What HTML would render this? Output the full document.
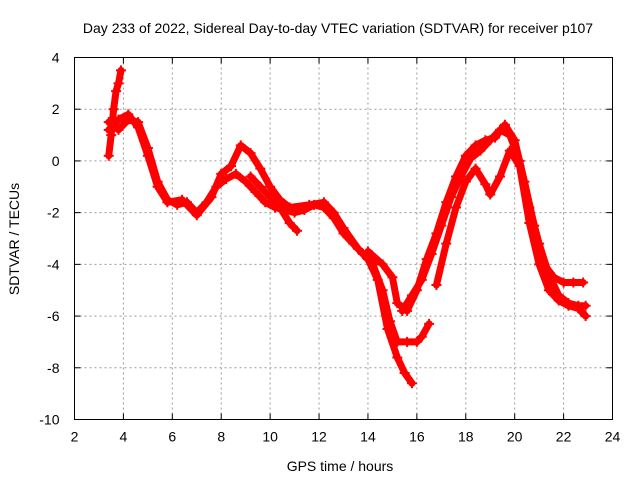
<!DOCTYPE html>
<html><head><meta charset="utf-8"><style>
body{margin:0;background:#fff}
svg text{font-family:"Liberation Sans",sans-serif;font-size:14px;fill:#000}
</style></head><body>
<svg width="640" height="480" xmlns="http://www.w3.org/2000/svg" id="c">
<text x="338" y="33" text-anchor="middle">Day 233 of 2022, Sidereal Day-to-day VTEC variation (SDTVAR) for receiver p107</text>
<text x="340" y="471" text-anchor="middle">GPS time / hours</text>
<text transform="translate(19,239) rotate(-90)" text-anchor="middle">SDTVAR / TECUs</text>
<g id="grid"></g>
<g id="series"></g>
<rect x="74.5" y="57.5" width="538" height="362" fill="none" stroke="#000" stroke-width="1"/>
<g id="ticks"></g>
</svg>
<script>
const xTicks=[2,4,6,8,10,12,14,16,18,20,22,24];
const yTicks=[4,2,0,-2,-4,-6,-8,-10];
const trackA=[[3.4,0.2],[3.5,1.0],[3.6,2.0],[3.7,2.7],[3.8,3.0],[3.9,3.5]];
const trackB=[[3.4,1.5],[3.8,1.2],[4.2,1.6],[4.6,1.5],[5.0,0.5],[5.4,-0.8],[5.8,-1.5],[6.2,-1.7],[6.6,-1.6],[7.0,-2.0],[7.4,-1.6],[7.8,-1.0],[8.2,-0.7],[8.6,-0.5],[9.0,-0.8],[9.4,-1.2],[9.8,-1.6],[10.2,-1.8],[10.6,-1.9],[11.0,-2.0],[11.4,-1.9],[11.8,-1.7],[12.2,-1.8],[12.6,-2.2],[13.0,-2.8],[13.4,-3.2],[13.8,-3.6],[14.2,-4.0],[14.6,-5.0],[14.9,-6.2],[15.2,-7.0],[15.6,-7.0],[16.0,-7.0],[16.2,-6.8],[16.5,-6.3]];
const trackC=[[3.4,1.2],[3.8,1.6],[4.2,1.8],[4.6,1.3],[5.0,0.2],[5.4,-1.0],[5.8,-1.6],[6.4,-1.5],[7.0,-2.1],[7.6,-1.4],[8.0,-0.5],[8.4,-0.2],[8.8,0.6],[9.2,0.3],[9.6,-0.3],[10.0,-1.0],[10.4,-1.5],[10.8,-1.8],[11.6,-1.7],[12.2,-1.6],[12.6,-2.0],[13.0,-2.6],[13.6,-3.4],[14.0,-3.8],[14.4,-4.6],[14.8,-6.5],[15.2,-7.6],[15.5,-8.2],[15.8,-8.6]];
const trackD=[[14.0,-3.5],[14.6,-4.0],[15.0,-4.5],[15.2,-5.5],[15.6,-5.8],[16.0,-5.0],[16.4,-3.8],[16.8,-2.8],[17.2,-1.6],[17.6,-0.6],[18.0,0.2],[18.4,0.6],[18.8,0.8],[19.2,0.9],[19.6,1.4],[20.0,0.8],[20.4,-0.8],[20.8,-2.5],[21.2,-4.0],[21.6,-4.5],[22.0,-4.7],[22.4,-4.7],[22.8,-4.7]];
const trackE=[[15.4,-5.8],[15.8,-5.2],[16.2,-4.6],[16.6,-3.6],[17.0,-2.5],[17.4,-1.4],[17.8,-0.6],[18.2,0.1],[18.6,0.4],[19.0,0.8],[19.4,1.2],[19.8,1.0],[20.2,0.0],[20.6,-1.8],[21.0,-3.2],[21.4,-4.4],[21.8,-5.2],[22.2,-5.5],[22.6,-5.6],[22.9,-5.6]];
const trackF=[[16.8,-4.8],[17.2,-3.2],[17.6,-1.8],[18.0,-0.8],[18.4,-0.3],[18.8,-0.9],[19.0,-1.3],[19.4,-0.6],[19.8,0.4],[20.2,-0.2],[20.6,-2.4],[21.0,-4.0],[21.4,-5.0],[21.8,-5.4],[22.2,-5.6],[22.6,-5.7],[22.9,-6.0]];
const trackG=[[9.2,-0.6],[9.6,-1.0],[10.0,-1.4],[10.4,-1.8],[10.8,-2.4],[11.1,-2.7]];
const tracks=[trackA,trackB,trackC,trackD,trackE,trackF,trackG];
const X0=74.5,X1=612.5,Y0=419.5,Y1=57.5;
const sx=v=>X0+(v-2)/22*(X1-X0);
const sy=v=>Y0-(v+10)/14*(Y0-Y1);
const NS='http://www.w3.org/2000/svg';
const mk=(t,a,p)=>{const e=document.createElementNS(NS,t);for(const k in a)e.setAttribute(k,a[k]);p.appendChild(e);return e;};
const grid=document.getElementById('grid'),ticks=document.getElementById('ticks'),ser=document.getElementById('series');
xTicks.forEach(v=>{const x=sx(v);
 if(v>2&&v<24){const l=mk('line',{x1:x,x2:x,y1:Y1,y2:Y0,stroke:'#999','stroke-dasharray':'2,3'},grid);}
 mk('line',{x1:x,x2:x,y1:Y0,y2:Y0-6,stroke:'#000'},ticks);mk('line',{x1:x,x2:x,y1:Y1,y2:Y1+6,stroke:'#000'},ticks);
 const t=mk('text',{x:x,y:Y0+22,'text-anchor':'middle'},ticks);t.textContent=v;
 });
yTicks.forEach(v=>{const y=sy(v);
 if(v>-10&&v<4){const l=mk('line',{x1:X0,x2:X1,y1:y,y2:y,stroke:'#999','stroke-dasharray':'2,3'},grid);}
 mk('line',{x1:X0,x2:X0+6,y1:y,y2:y,stroke:'#000'},ticks);mk('line',{x1:X1,x2:X1-6,y1:y,y2:y,stroke:'#000'},ticks);
 const t=mk('text',{x:X0-15,y:y+5,'text-anchor':'end'},ticks);t.textContent=v;
 });
tracks.forEach(tr=>{
 const pl=mk('polyline',{points:tr.map(p=>sx(p[0])+','+sy(p[1])).join(' '),fill:'none',stroke:'#f00','stroke-width':7,'stroke-linejoin':'round','stroke-linecap':'round'},ser);
 
 
 tr.forEach(p=>{const x=sx(p[0]),y=sy(p[1]);
  const m=mk('path',{d:`M${x-5},${y}H${x+5}M${x},${y-5}V${y+5}`,stroke:'#f00','stroke-width':2},ser);
  
  });
});
</script>
</body></html>
